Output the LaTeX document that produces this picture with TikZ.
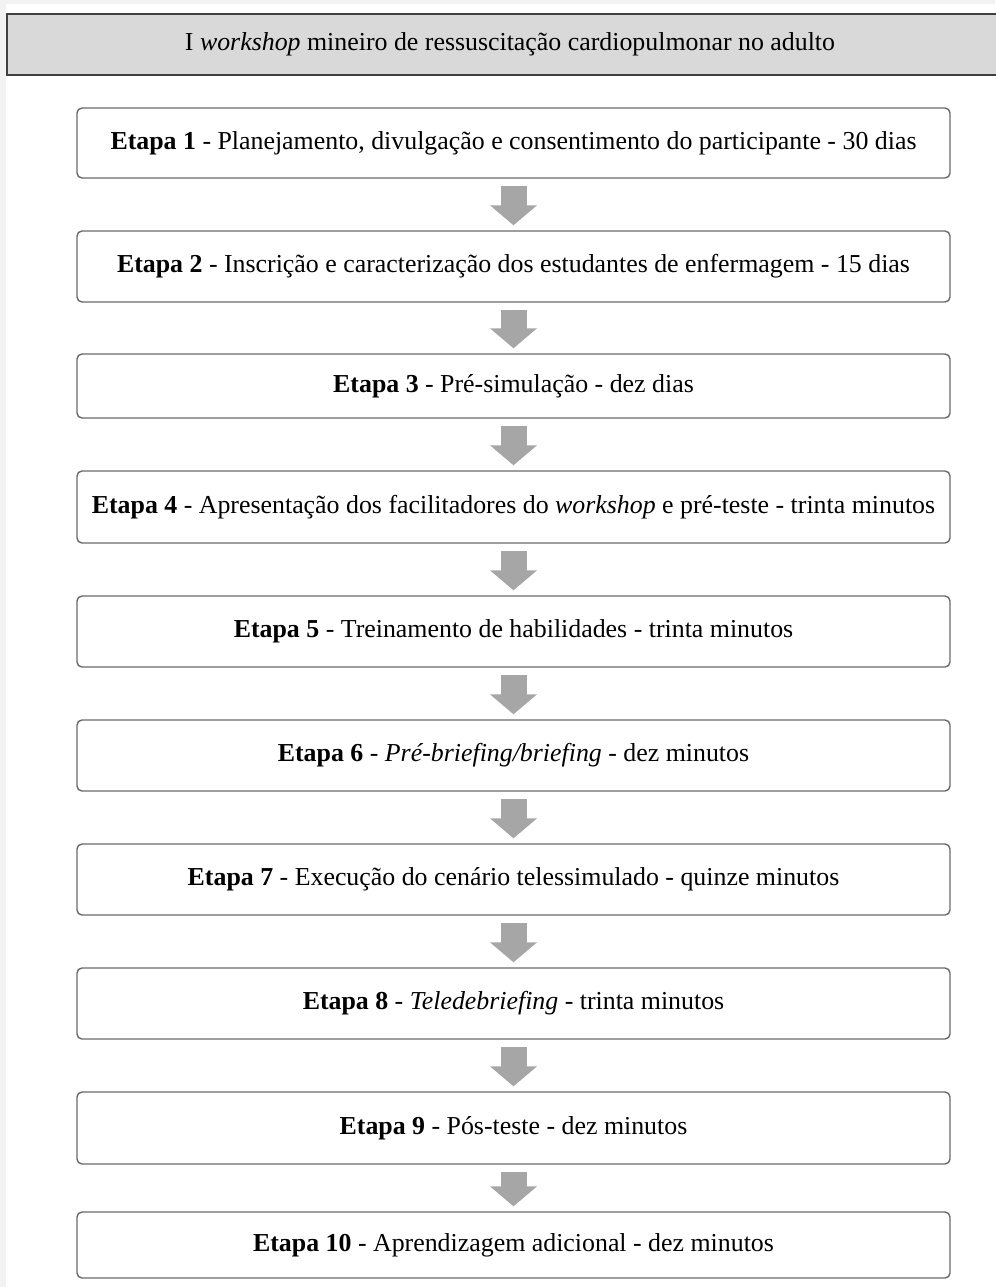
\documentclass[tikz,border=0pt]{standalone}
\usepackage{fontspec}
\setmainfont{Liberation Serif}
\usetikzlibrary{arrows.meta}
\definecolor{bgstrip}{HTML}{F2F2F2}
\definecolor{headfill}{HTML}{D9D9D9}
\definecolor{headline}{HTML}{404040}
\definecolor{boxline}{HTML}{6A6A6A}
\definecolor{arrowgray}{HTML}{A6A6A6}
\begin{document}
\begin{tikzpicture}[x=0.75pt,y=-0.75pt,
  every node/.style={font=\fontsize{19.4}{23}\selectfont, inner sep=0pt},
  stepbox/.style={draw=boxline, line width=1.4*0.75pt, rounded corners=5*0.75pt, fill=white,
    minimum width=873*0.75pt, align=center},
  headbox/.style={draw=headline, line width=1.4*0.75pt, fill=headfill},
  fatarrow/.style={draw=arrowgray, line width=26*0.75pt,
    -{Triangle[width=46*0.75pt,length=20*0.75pt]}, fill=arrowgray,
    shorten <=7*0.75pt, shorten >=5*0.75pt}
]
\useasboundingbox (0,0) rectangle (995,1287);
\fill[white] (0,0) rectangle (995,1287);
\fill[bgstrip] (0,0) rectangle (995,4);
\fill[bgstrip] (0,0) rectangle (6,1287);
% header
\draw[headbox] (7,14) rectangle (1000,75);
\node (head) at (510,44.5) {I \textit{workshop} mineiro de ressuscitação cardiopulmonar no adulto};
% steps
\node[stepbox, minimum height=70*0.75pt] (b1) at (513.5,143) {\textbf{Etapa 1} - Planejamento, divulgação e consentimento do participante - 30 dias};
\node[stepbox, minimum height=71*0.75pt] (b2) at (513.5,266.5) {\textbf{Etapa 2} - Inscrição e caracterização dos estudantes de enfermagem - 15 dias};
\node[stepbox, minimum height=64*0.75pt] (b3) at (513.5,386) {\textbf{Etapa 3} - Pré-simulação - dez dias};
\node[stepbox, minimum height=72*0.75pt] (b4) at (513.5,507) {\textbf{Etapa 4} - Apresentação dos facilitadores do \textit{workshop} e pré-teste - trinta minutos};
\node[stepbox, minimum height=71*0.75pt] (b5) at (513.5,631.5) {\textbf{Etapa 5} - Treinamento de habilidades - trinta minutos};
\node[stepbox, minimum height=71*0.75pt] (b6) at (513.5,755.5) {\textbf{Etapa 6} - \textit{Pré-briefing/briefing} - dez minutos};
\node[stepbox, minimum height=71*0.75pt] (b7) at (513.5,879.5) {\textbf{Etapa 7} - Execução do cenário telessimulado - quinze minutos};
\node[stepbox, minimum height=71*0.75pt] (b8) at (513.5,1003.5) {\textbf{Etapa 8} - \textit{Teledebriefing} - trinta minutos};
\node[stepbox, minimum height=72*0.75pt] (b9) at (513.5,1128) {\textbf{Etapa 9} - Pós-teste - dez minutos};
\node[stepbox, minimum height=66*0.75pt] (b10) at (513.5,1245) {\textbf{Etapa 10} - Aprendizagem adicional - dez minutos};
% arrows
\foreach \a/\b in {b1/b2,b2/b3,b3/b4,b4/b5,b5/b6,b6/b7,b7/b8,b8/b9,b9/b10}
  \draw[fatarrow] (\a) -- (\b);
\end{tikzpicture}
\end{document}
